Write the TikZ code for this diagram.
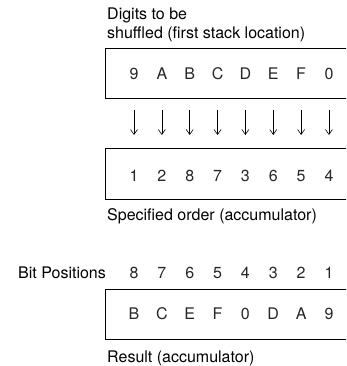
\documentclass[tikz,border=0pt]{standalone}
\usepackage{fontspec}
\setmainfont{TeX Gyre Heros}
\usetikzlibrary{arrows.meta}

\begin{document}
\begin{tikzpicture}[x=1pt, y=-1pt, font=\fontsize{16}{19}\selectfont,
  bx/.style={draw, line width=0.9pt, anchor=north west, inner sep=0pt,
             minimum width=280pt},
  dg/.style={anchor=base, inner sep=0pt, text height=11.5pt, text depth=0pt,
             black!85},
  lab/.style={anchor=base west, inner sep=0pt, align=left},
  arr/.style={-{Straight Barb[length=5pt, width=7pt]}, line width=0.6pt,
              shorten <=30pt, shorten >=35pt}]

\useasboundingbox (0,0) rectangle (346,366);
\clip (0,0) rectangle (346,366);

% the three registers (right side runs off the page)
\node[bx, minimum height=49.5pt] (src) at (104.5,48.5) {};
\node[bx, minimum height=51pt]   (ord) at (104.5,148) {};
\node[bx, minimum height=50pt]   (res) at (104.5,289) {};

\node[lab] (srclab) at (107,38.3)  {Digits to be\\shuffled (first stack location)};
\node[lab] (ordlab) at (107,220.7) {Specified order (accumulator)};
\node[lab] (bitlab) at (18,278.3)  {Bit Positions};
\node[lab] (reslab) at (107,362)   {Result (accumulator)};

\foreach \s/\o/\r/\p [count=\i] in {9/1/B/8, A/2/C/7, B/8/E/6, C/7/F/5,
                                      D/3/0/4, E/6/D/3, F/5/A/2, 0/4/9/1} {
  \node[dg] (s\i) at ({134+27.85*(\i-1)}, 80)    {\s};
  \node[dg] (o\i) at ({134+27.85*(\i-1)}, 181.7) {\o};
  \node[dg] (p\i) at ({134+27.85*(\i-1)}, 278.3) {\p};
  \node[dg] (r\i) at ({134+27.85*(\i-1)}, 319)   {\r};
  \draw[arr] (s\i) -- (o\i);
}
\end{tikzpicture}
\end{document}
